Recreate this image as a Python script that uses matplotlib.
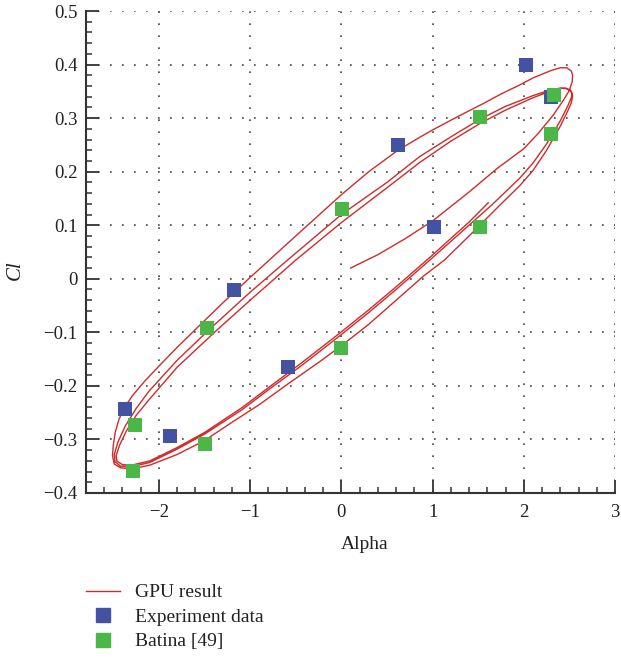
import matplotlib.pyplot as plt
from matplotlib.lines import Line2D
from matplotlib.ticker import MultipleLocator

# GPU result curve
start_alpha = [0.10, 0.40, 0.70, 1.00, 1.20, 1.40, 1.70, 2.00, 2.15, 2.32, 2.44, 2.50, 2.53, 2.535]
start_cl = [0.020, 0.045, 0.075, 0.108, 0.135, 0.162, 0.205, 0.243, 0.270, 0.305, 0.335, 0.352, 0.368, 0.380]

loop1_alpha = [2.52, 2.47, 2.40, 2.30, 2.10, 1.956, 1.75, 1.553, 1.30, 1.00, 0.857, 0.62, 0.30, 0.00,
               -0.50, -0.79, -1.01, -1.30, -1.56, -1.80, -2.00, -2.15, -2.29, -2.35, -2.40, -2.44,
               -2.48, -2.50, -2.51, -2.49, -2.42, -2.30, -2.10, -1.80, -1.50, -1.20, -0.90, -0.60,
               -0.24, 0.00, 0.30, 0.60, 0.90, 1.13, 1.40, 1.74, 1.956, 2.10, 2.25, 2.40, 2.48, 2.52]
loop1_cl = [0.388, 0.394, 0.394, 0.389, 0.375, 0.362, 0.345, 0.327, 0.305, 0.278, 0.264, 0.240, 0.200,
            0.157, 0.080, 0.035, 0.001, -0.045, -0.088, -0.128, -0.163, -0.190, -0.218, -0.233,
            -0.248, -0.263, -0.287, -0.310, -0.330, -0.346, -0.353, -0.355, -0.348, -0.328, -0.302,
            -0.268, -0.235, -0.198, -0.155, -0.125, -0.085, -0.040, 0.005, 0.035, 0.080, 0.138,
            0.174, 0.202, 0.240, 0.285, 0.313, 0.328]

loop2_alpha = [2.535, 2.52, 2.47, 2.40, 2.30, 2.10, 1.80, 1.52, 1.20, 0.857, 0.50, 0.00, -0.59, -1.00,
               -1.45, -1.80, -2.11, -2.25, -2.37, -2.45, -2.49, -2.48, -2.42, -2.30, -2.10, -1.80,
               -1.50, -1.085, -0.79, -0.46, -0.24, 0.00, 0.30, 0.60, 0.97, 1.40, 1.65, 1.956, 2.10,
               2.25, 2.40, 2.48, 2.52]
loop2_cl = [0.342, 0.350, 0.355, 0.356, 0.353, 0.342, 0.322, 0.298, 0.265, 0.228, 0.180, 0.120, 0.035,
            -0.025, -0.095, -0.152, -0.210, -0.242, -0.275, -0.305, -0.328, -0.342, -0.350, -0.351,
            -0.343, -0.318, -0.290, -0.244, -0.206, -0.165, -0.136, -0.104, -0.063, -0.020, 0.035,
            0.100, 0.138, 0.188, 0.216, 0.252, 0.295, 0.322, 0.338]

loop3_alpha = [2.53, 2.51, 2.46, 2.38, 2.30, 2.10, 1.80, 1.52, 1.20, 0.857, 0.50, 0.00, -0.50, -1.00,
               -1.36, -1.80, -2.11, -2.25, -2.36, -2.43, -2.47, -2.46, -2.40, -2.30, -2.10, -1.80,
               -1.50, -1.085, -0.79, -0.46, -0.24, 0.00, 0.30, 0.60, 0.97, 1.40, 1.61]
loop3_cl = [0.345, 0.352, 0.356, 0.355, 0.351, 0.338, 0.315, 0.290, 0.257, 0.217, 0.170, 0.105, 0.035,
            -0.040, -0.095, -0.165, -0.226, -0.255, -0.285, -0.310, -0.330, -0.341, -0.347, -0.348,
            -0.340, -0.315, -0.287, -0.240, -0.202, -0.160, -0.131, -0.099, -0.058, -0.015, 0.040,
            0.106, 0.142]

# experiment data
exp_alpha = [2.02, 2.30, 0.62, 1.01, -1.18, -0.59, -2.37, -1.88]
exp_cl = [0.400, 0.339, 0.250, 0.097, -0.021, -0.165, -0.243, -0.293]

# Batina [49]
bat_alpha = [2.33, 2.30, 1.52, 1.52, 0.01, 0.00, -1.47, -1.49, -2.26, -2.28]
bat_cl = [0.343, 0.270, 0.303, 0.097, 0.130, -0.129, -0.092, -0.308, -0.273, -0.359]

xticks = [-2, -1, 0, 1, 2, 3]
xticklabels = ["\u22122", "\u22121", "0", "1", "2", "3"]
yticks = [-0.4, -0.3, -0.2, -0.1, 0.0, 0.1, 0.2, 0.3, 0.4, 0.5]
yticklabels = ["\u22120.4", "\u22120.3", "\u22120.2", "\u22120.1", "0", "0.1", "0.2", "0.3", "0.4", "0.5"]

plt.rcParams['font.family'] = ['Liberation Serif', 'DejaVu Serif']

gpu_alpha = start_alpha + loop1_alpha + loop2_alpha + loop3_alpha
gpu_cl = start_cl + loop1_cl + loop2_cl + loop3_cl

fig = plt.figure(figsize=(6.21, 6.59), dpi=100)
ax = fig.add_axes([0.1385, 0.2519, 0.8519, 0.7314])

red = "#d12a2a"
blue = "#4453a1"
green = "#4bb749"

ax.plot(gpu_alpha, gpu_cl, color=red, lw=1.0, zorder=2, solid_joinstyle="round")
ax.scatter(exp_alpha, exp_cl, marker="s", s=95, color=blue, linewidths=0, zorder=3)
ax.scatter(bat_alpha, bat_cl, marker="s", s=95, color=green, linewidths=0, zorder=4)

ax.set_xlim(-2.8, 3)
ax.set_ylim(-0.4, 0.5)
ax.set_xticks(xticks)
ax.set_xticklabels(xticklabels)
ax.set_yticks(yticks)
ax.set_yticklabels(yticklabels)
ax.xaxis.set_minor_locator(MultipleLocator(0.2))
ax.yaxis.set_minor_locator(MultipleLocator(0.02))

ax.grid(True, which="major", color="#444444", lw=1.2, linestyle=(0, (1, 6.2)))

for s in ["top", "right"]:
    ax.spines[s].set_visible(False)
for s in ["left", "bottom"]:
    ax.spines[s].set_linewidth(1.5)
    ax.spines[s].set_color("#333333")

ax.tick_params(which="major", direction="in", length=9.5, width=1.3, color="#333333",
               labelsize=13.5, labelcolor="#222222", pad=6)
ax.tick_params(which="minor", direction="in", length=4.5, width=1.1, color="#333333")
ax.tick_params(axis="x", pad=8)

ax.set_xlabel("Alpha", fontsize=14, color="#222222")
ax.xaxis.set_label_coords(0.527, -0.09)
ax.set_ylabel("Cl", fontsize=15, style="italic", color="#222222")
ax.yaxis.set_label_coords(-0.115, 0.463)

handles = [
    Line2D([], [], color=red, lw=1.0),
    Line2D([], [], marker="s", markersize=9.5, color=blue, lw=0),
    Line2D([], [], marker="s", markersize=9.5, color=green, lw=0),
]
labels = ["GPU result", "Experiment data", "Batina [49]"]
fig.legend(handles, labels, loc="upper left", bbox_to_anchor=(0.138, 0.114), frameon=False,
           fontsize=14, handlelength=1.75, handletextpad=0.8, labelspacing=0.35,
           borderpad=0, borderaxespad=0, labelcolor="#222222")

fig.savefig("out.png", dpi=100)
